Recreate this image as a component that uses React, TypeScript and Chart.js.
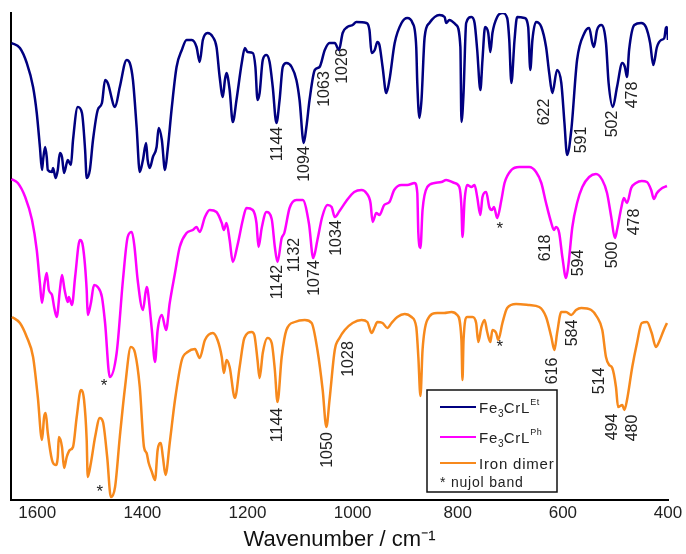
import { useEffect, useRef } from 'react';
import { Chart, registerables } from 'chart.js';

Chart.register(...registerables);

const X_MIN = 400;
const X_MAX = 1650;
const X_STEP = 200;
const Y_MIN = 0;
const Y_MAX = 487;
const X_TITLE = 'Wavenumber / cm\u207B\u00B9';

const FONT = '"Liberation Sans", Arial, sans-serif';

const seriesLabels = ['Fe3CrLEt', 'Fe3CrLPh', 'Iron dimer'];
const seriesColors = ['#000080', '#ff00ff', '#f7891c'];

// [wavenumber, signal] pairs
const feCrLEt: number[][] = [
  [1649,457],[1633,452],[1620,437],[1608,413],[1601,387],[1595,353],[1591,330],[1589,340],[1585,353],[1582,343],[1580,330],[1572,328],[1570,332],[1565,322],[1561,330],[1557,347],[1553,343],[1549,327],[1544,337],[1542,340],[1536,335],[1532,360],[1523,393],[1515,387],[1509,350],[1506,322],[1500,330],[1494,360],[1485,390],[1477,397],[1471,420],[1466,417],[1452,393],[1443,413],[1430,440],[1424,437],[1418,420],[1411,373],[1405,328],[1399,340],[1393,357],[1390,340],[1386,332],[1380,343],[1373,353],[1369,372],[1363,360],[1357,330],[1352,350],[1344,393],[1335,433],[1325,450],[1316,460],[1306,460],[1297,453],[1291,438],[1285,460],[1276,467],[1266,463],[1259,453],[1253,423],[1247,403],[1243,420],[1240,427],[1234,410],[1228,378],[1221,400],[1211,437],[1205,452],[1200,448],[1190,447],[1185,433],[1181,400],[1177,407],[1171,440],[1164,445],[1158,438],[1152,413],[1145,377],[1139,400],[1133,433],[1126,437],[1116,433],[1107,420],[1101,400],[1093,357],[1088,373],[1082,400],[1072,430],[1063,433],[1053,450],[1044,457],[1034,457],[1026,450],[1019,467],[1010,473],[1006,474],[1000,475],[993,478],[974,477],[968,470],[964,447],[958,450],[953,458],[949,455],[943,433],[936,407],[930,420],[920,457],[907,477],[896,482],[886,477],[879,453],[877,417],[873,382],[869,400],[863,463],[854,477],[835,485],[825,483],[822,477],[816,480],[803,475],[795,453],[793,378],[789,407],[784,477],[774,483],[768,477],[763,450],[757,410],[753,440],[748,473],[742,467],[738,448],[734,467],[725,483],[715,487],[706,482],[702,460],[698,417],[692,460],[687,483],[673,482],[666,473],[662,430],[658,460],[651,478],[641,473],[632,453],[626,427],[620,407],[611,430],[603,417],[597,377],[592,345],[584,370],[573,440],[559,467],[550,472],[544,457],[541,453],[535,470],[527,475],[518,457],[513,417],[505,393],[497,413],[487,437],[482,433],[478,423],[474,450],[464,475],[451,477],[442,473],[434,457],[428,435],[421,453],[413,460],[407,462],[404,472],[402,473],[400,460]
];

const feCrLPh: number[][] = [
  [1649,321],[1637,317],[1623,303],[1610,280],[1601,250],[1595,217],[1591,197],[1586,217],[1582,227],[1578,210],[1572,205],[1568,193],[1563,183],[1557,210],[1553,225],[1548,210],[1542,198],[1540,203],[1534,195],[1528,223],[1519,260],[1513,253],[1506,210],[1504,185],[1498,197],[1492,215],[1485,213],[1477,203],[1471,177],[1462,123],[1449,147],[1437,220],[1428,263],[1420,268],[1415,253],[1409,220],[1399,190],[1392,213],[1390,210],[1382,170],[1376,138],[1371,170],[1363,185],[1355,170],[1348,197],[1338,227],[1329,253],[1316,267],[1304,270],[1297,273],[1291,268],[1281,283],[1272,290],[1259,288],[1249,277],[1245,270],[1240,277],[1234,260],[1228,238],[1219,255],[1209,280],[1202,292],[1190,290],[1183,277],[1179,253],[1173,272],[1164,288],[1154,281],[1148,253],[1143,238],[1135,262],[1130,267],[1120,292],[1107,300],[1095,300],[1083,276],[1075,242],[1067,260],[1058,283],[1048,295],[1040,293],[1034,283],[1025,289],[1012,299],[997,308],[983,310],[974,307],[966,297],[962,278],[955,287],[949,285],[940,295],[930,298],[921,310],[907,315],[896,315],[882,317],[877,307],[875,267],[871,252],[867,290],[858,313],[844,317],[831,318],[822,320],[806,317],[797,313],[793,293],[791,263],[787,300],[782,315],[774,313],[768,315],[763,303],[757,285],[753,303],[746,308],[740,293],[735,290],[731,293],[725,282],[717,300],[711,317],[698,330],[683,333],[664,333],[651,328],[641,317],[632,297],[622,277],[617,270],[613,273],[607,267],[601,243],[594,222],[590,233],[582,273],[573,297],[563,313],[550,323],[537,326],[525,320],[516,307],[508,283],[501,262],[497,270],[489,292],[484,302],[478,297],[470,312],[461,317],[450,319],[440,318],[432,310],[427,301],[421,307],[411,312],[402,314]
];

const ironDimer: number[][] = [
  [1648,183],[1633,177],[1620,163],[1608,143],[1599,103],[1591,60],[1587,83],[1584,87],[1580,67],[1572,40],[1565,35],[1561,43],[1559,63],[1553,53],[1549,32],[1544,43],[1538,50],[1532,53],[1525,83],[1517,110],[1511,100],[1506,60],[1504,23],[1498,37],[1490,63],[1481,82],[1475,78],[1467,43],[1460,3],[1452,13],[1443,63],[1433,113],[1422,153],[1414,147],[1405,113],[1397,53],[1392,47],[1388,37],[1382,28],[1376,20],[1371,50],[1365,57],[1361,43],[1356,25],[1348,57],[1338,100],[1325,140],[1314,148],[1300,151],[1291,142],[1281,160],[1266,167],[1257,160],[1249,143],[1245,127],[1240,140],[1234,133],[1224,102],[1215,133],[1206,162],[1192,168],[1187,165],[1181,140],[1177,122],[1171,147],[1162,162],[1154,157],[1148,130],[1143,98],[1135,143],[1126,170],[1110,178],[1091,180],[1078,177],[1067,150],[1057,110],[1050,73],[1044,100],[1034,150],[1025,162],[1015,170],[1000,177],[983,180],[972,178],[964,167],[958,173],[953,178],[943,177],[934,172],[926,177],[915,183],[901,186],[888,183],[879,173],[875,143],[871,104],[867,150],[858,180],[839,187],[826,187],[812,188],[801,185],[793,160],[791,120],[789,160],[782,183],[772,183],[765,177],[761,158],[755,173],[749,180],[744,168],[738,158],[734,170],[727,167],[723,160],[715,177],[706,192],[689,196],[664,195],[645,193],[632,183],[622,163],[616,150],[611,167],[603,188],[594,188],[584,185],[575,190],[565,192],[546,190],[535,183],[525,170],[518,143],[512,135],[506,132],[499,113],[495,93],[487,95],[483,90],[478,100],[468,133],[459,157],[450,177],[440,178],[431,167],[423,153],[418,157],[408,170],[402,177]
];

// peak labels: [text, wavenumber, signal]
const peaksEt: [string, number, number][] = [
  ['1144',1142,356],['1094',1091,336],['1063',1053,411],['1026',1019,434],
  ['622',634,388],['591',564,360],['502',505,376],['478',467,405]
];
const peaksPh: [string, number, number][] = [
  ['1142',1142,218],['1132',1110,245],['1074',1072,222],['1034',1030,262],
  ['618',632,252],['594',570,237],['500',505,245],['478',463,278]
];
const peaksDimer: [string, number, number][] = [
  ['1144',1142,75],['1050',1047,50],['1028',1007,141],['616',619,129],
  ['584',581,167],['514',530,119],['494',505,73],['480',467,72]
];
// nujol band markers: [wavenumber, signal]
const nujolMarks: number[][] = [[720,275],[1473,118],[720,157],[1481,12]];

// legend label pieces: [text, kind]
const legendParts: [string, string][][] = [
  [['Fe',''],['3','sub'],['CrL',''],['Et','sup']],
  [['Fe',''],['3','sub'],['CrL',''],['Ph','sup']],
  [['Iron dimer','']],
];
const legendNote = '* nujol band';

const annotatePlugin = {
  id: 'peakAnnotations',
  afterDatasetsDraw(chart: any) {
    const { ctx, scales } = chart;
    const xs = scales.x, ys = scales.y;
    ctx.save();
    ctx.fillStyle = '#222';
    ctx.font = `16px ${FONT}`;
    ctx.textAlign = 'center';
    ctx.textBaseline = 'middle';
    for (const [t, wx, wy] of [...peaksEt, ...peaksPh, ...peaksDimer]) {
      const px = xs.getPixelForValue(wx);
      const py = ys.getPixelForValue(wy);
      ctx.save();
      ctx.translate(px, py);
      ctx.rotate(-Math.PI / 2);
      ctx.fillText(t, 0, 0);
      ctx.restore();
    }
    ctx.font = `17px ${FONT}`;
    for (const [wx, wy] of nujolMarks) {
      ctx.fillText('*', xs.getPixelForValue(wx), ys.getPixelForValue(wy) + 4);
    }
    ctx.restore();
  },
};

const legendPlugin = {
  id: 'customLegend',
  afterDatasetsDraw(chart: any) {
    const { ctx } = chart;
    const bx = 427, by = 390, bw = 130, bh = 102;
    const rows = [17, 47, 73];
    ctx.save();
    ctx.fillStyle = '#fff';
    ctx.fillRect(bx, by, bw, bh);
    ctx.strokeStyle = '#111';
    ctx.lineWidth = 1.5;
    ctx.strokeRect(bx, by, bw, bh);
    chart.data.datasets.forEach((ds: any, i: number) => {
      const cy = by + rows[i];
      ctx.strokeStyle = ds.borderColor;
      ctx.lineWidth = 2;
      ctx.beginPath();
      ctx.moveTo(bx + 13, cy);
      ctx.lineTo(bx + 49, cy);
      ctx.stroke();
      let x = bx + 52;
      const base = cy + 6;
      ctx.fillStyle = '#222';
      ctx.textBaseline = 'alphabetic';
      ctx.textAlign = 'left';
      for (const [t, kind] of legendParts[i]) {
        let y = base;
        if (kind === 'sub') { ctx.font = `10px ${FONT}`; y = base + 4; (ctx as any).letterSpacing = '0px'; }
        else if (kind === 'sup') { ctx.font = `9px ${FONT}`; y = base - 8; (ctx as any).letterSpacing = '0.5px'; }
        else { ctx.font = `15px ${FONT}`; (ctx as any).letterSpacing = '0.8px'; }
        ctx.fillText(t, x, y);
        x += ctx.measureText(t).width;
      }
    });
    ctx.font = `14px ${FONT}`;
    (ctx as any).letterSpacing = '0.8px';
    ctx.fillStyle = '#222';
    ctx.fillText(legendNote, bx + 13, by + 97);
    ctx.restore();
  },
};

export default function App() {
  const canvasRef = useRef<HTMLCanvasElement | null>(null);

  useEffect(() => {
    document.body.style.margin = '0';
    const canvas = canvasRef.current;
    if (!canvas) return;
    const series = [feCrLEt, feCrLPh, ironDimer];
    const chart = new Chart(canvas, {
      type: 'line',
      data: {
        datasets: series.map((s, i) => ({
          label: seriesLabels[i],
          data: s.map(([x, y]) => ({ x, y })),
          borderColor: seriesColors[i],
          backgroundColor: seriesColors[i],
          borderWidth: 2.5,
          pointRadius: 0,
          fill: false,
          borderJoinStyle: 'round' as const,
          cubicInterpolationMode: 'monotone' as const,
        })),
      },
      options: {
        animation: false,
        responsive: false,
        layout: { padding: { left: 11, right: 18, top: 13, bottom: 0 } },
        plugins: {
          legend: { display: false },
          tooltip: { enabled: false },
        },
        scales: {
          x: {
            type: 'linear',
            min: X_MIN,
            max: X_MAX,
            reverse: true,
            grid: { display: false, drawTicks: false },
            border: { display: true, color: '#000', width: 2 },
            ticks: {
              stepSize: X_STEP,
              includeBounds: false,
              padding: 3,
              color: '#222',
              font: { size: 17, family: FONT },
              callback: (v: any) => String(v),
            },
            title: {
              display: true,
              text: X_TITLE,
              color: '#111',
              font: { size: 22, family: FONT },
              padding: { top: 0, bottom: 1 },
            },
            afterFit: (s: any) => { s.height = 54; },
          },
          y: {
            min: Y_MIN,
            max: Y_MAX,
            grid: { display: false, drawTicks: false },
            ticks: { display: false },
            border: { display: true, color: '#000', width: 2 },
            afterFit: (s: any) => { s.width = 0; },
          },
        },
      },
      plugins: [annotatePlugin, legendPlugin],
    });
    return () => chart.destroy();
  }, []);

  return (
    <div style={{ width: 686, height: 554 }}>
      <canvas ref={canvasRef} width={686} height={554} />
    </div>
  );
}
